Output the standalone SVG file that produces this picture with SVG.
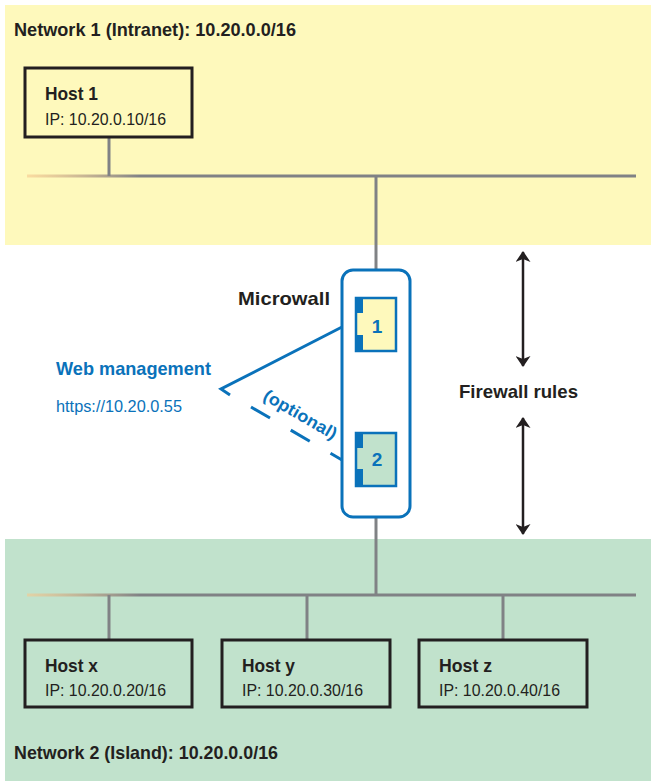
<svg xmlns="http://www.w3.org/2000/svg" width="651" height="781" viewBox="0 0 651 781">
<defs>
<style>
.b{font-family:"Liberation Sans",Arial,sans-serif;font-weight:bold;font-size:18.5px;fill:#231f20}
.r{font-family:"Liberation Sans",Arial,sans-serif;font-size:16.5px;fill:#231f20}
.bl{fill:#0a72ba}
.wire{stroke:#808285;stroke-width:3;fill:none}
.host{fill:none;stroke:#231f20;stroke-width:3}
.port{stroke:#0a72ba;stroke-width:2.5}
</style>
<linearGradient id="fade" x1="27" y1="0" x2="140" y2="0" gradientUnits="userSpaceOnUse">
<stop offset="0" stop-color="#f7c98e" stop-opacity="0.6"/>
<stop offset="1" stop-color="#808285"/>
</linearGradient>
<marker id="ah" viewBox="0 0 11 15" refX="10" refY="7.5" markerWidth="11" markerHeight="15" markerUnits="userSpaceOnUse" orient="auto-start-reverse">
<path d="M0,0 L11,7.5 L0,15 L3,7.5 Z" fill="#231f20"/>
</marker>
</defs>
<rect x="5" y="5" width="646" height="240" fill="#fef9bc"/>
<rect x="5" y="539" width="646" height="242" fill="#c1e2cc"/>
<g id="connectors">
<line x1="27" y1="176" x2="636" y2="176" stroke="url(#fade)" stroke-width="3"/>
<line x1="27" y1="595" x2="636" y2="595" stroke="url(#fade)" stroke-width="3"/>
<line class="wire" x1="109" y1="137" x2="109" y2="176"/>
<line class="wire" x1="376" y1="176" x2="376" y2="270"/>
<line class="wire" x1="376" y1="517" x2="376" y2="595"/>
<line class="wire" x1="109" y1="595" x2="109" y2="640"/>
<line class="wire" x1="307" y1="595" x2="307" y2="640"/>
<line class="wire" x1="503" y1="595" x2="503" y2="640"/>
<polyline points="230,395 221,389 342,327" fill="none" stroke="#0a72ba" stroke-width="3"/>
<line x1="251" y1="407" x2="342" y2="460" stroke="#0a72ba" stroke-width="3" stroke-dasharray="22,24"/>
<line x1="523" y1="252" x2="523" y2="366" stroke="#231f20" stroke-width="2.5" marker-start="url(#ah)" marker-end="url(#ah)"/>
<line x1="523" y1="418" x2="523" y2="534" stroke="#231f20" stroke-width="2.5" marker-start="url(#ah)" marker-end="url(#ah)"/>
</g>
<g id="network1">
<text class="b" x="14" y="36" textLength="282" lengthAdjust="spacingAndGlyphs">Network 1 (Intranet): 10.20.0.0/16</text>
</g>
<g id="host1">
<rect class="host" x="25" y="68" width="167" height="69"/>
<text class="b" x="45" y="100" textLength="53" lengthAdjust="spacingAndGlyphs">Host 1</text>
<text class="r" x="45" y="125" textLength="121" lengthAdjust="spacingAndGlyphs">IP: 10.20.0.10/16</text>
</g>
<g id="microwall">
<rect x="342" y="270" width="68" height="247" rx="11" fill="#fff" stroke="#0a72ba" stroke-width="3"/>
<text class="b" x="238" y="305" textLength="92" lengthAdjust="spacingAndGlyphs">Microwall</text>
</g>
<g id="port1">
<rect class="port" x="356" y="298" width="40" height="53" fill="#fef9bc"/>
<rect x="355" y="297" width="8" height="16" fill="#0a72ba"/>
<rect x="355" y="335" width="8" height="17" fill="#0a72ba"/>
<text class="b bl" x="377" y="333" text-anchor="middle" style="font-size:19px;fill:#0a72ba">1</text>
</g>
<g id="port2">
<rect class="port" x="356" y="433" width="40" height="53" fill="#c1e2cc"/>
<rect x="355" y="432" width="8" height="16" fill="#0a72ba"/>
<rect x="355" y="469" width="8" height="18" fill="#0a72ba"/>
<text class="b" x="377" y="466" text-anchor="middle" style="font-size:19px;fill:#0a72ba">2</text>
</g>
<g id="webmgmt">
<text class="b" x="56" y="375" textLength="155" lengthAdjust="spacingAndGlyphs" style="fill:#0a72ba">Web management</text>
<text class="r" x="56" y="412" textLength="126" lengthAdjust="spacingAndGlyphs" style="fill:#0a72ba">https://10.20.0.55</text>
<text class="b" x="0" y="0" transform="translate(262,399) rotate(30)" textLength="82" lengthAdjust="spacingAndGlyphs" style="font-size:17px;fill:#0a72ba">(optional)</text>
</g>
<g id="firewall">
<text class="b" x="459" y="398" textLength="119" lengthAdjust="spacingAndGlyphs">Firewall rules</text>
</g>
<g id="hostx">
<rect class="host" x="25" y="640" width="167" height="67"/>
<text class="b" x="45" y="672" textLength="53" lengthAdjust="spacingAndGlyphs">Host x</text>
<text class="r" x="45" y="696" textLength="121" lengthAdjust="spacingAndGlyphs">IP: 10.20.0.20/16</text>
</g>
<g id="hosty">
<rect class="host" x="222" y="640" width="168" height="67"/>
<text class="b" x="242" y="672" textLength="53" lengthAdjust="spacingAndGlyphs">Host y</text>
<text class="r" x="242" y="696" textLength="121" lengthAdjust="spacingAndGlyphs">IP: 10.20.0.30/16</text>
</g>
<g id="hostz">
<rect class="host" x="419" y="640" width="168" height="67"/>
<text class="b" x="439" y="672" textLength="53" lengthAdjust="spacingAndGlyphs">Host z</text>
<text class="r" x="439" y="696" textLength="121" lengthAdjust="spacingAndGlyphs">IP: 10.20.0.40/16</text>
</g>
<g id="network2">
<text class="b" x="14" y="759" textLength="264" lengthAdjust="spacingAndGlyphs">Network 2 (Island): 10.20.0.0/16</text>
</g>
</svg>
